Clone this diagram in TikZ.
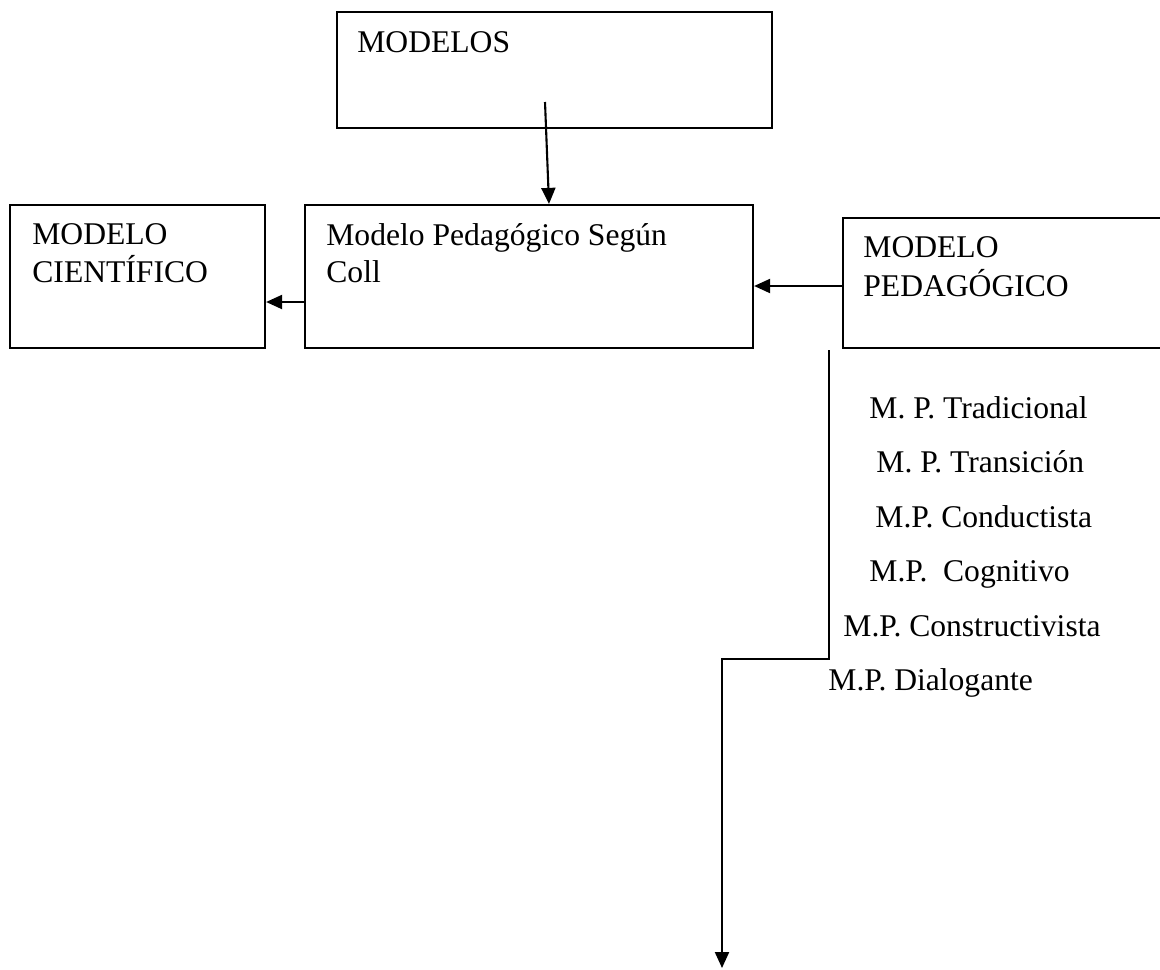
\documentclass[tikz,border=0pt]{standalone}
\usepackage{fontspec}
\setmainfont{Liberation Serif}
\usetikzlibrary{arrows.meta}
\begin{document}
\begin{tikzpicture}[x=0.5pt,y=-0.5pt,
  box/.style={draw=black, line width=1.1pt, rectangle, inner sep=0pt},
  lbl/.style={anchor=base west, inner sep=0pt, font=\fontsize{15.8}{18}\selectfont},
  arr/.style={line width=1.05pt, -{Triangle[length=8pt,width=7pt]}},
  ln/.style={line width=1.05pt}]
\clip (0,0) rectangle (1160,969);
\fill[white] (0,0) rectangle (1160,969);
% boxes
\node[box, minimum width=217.5pt, minimum height=58pt] (modelos) at (554.5,70) {};
\node[box, minimum width=127.5pt, minimum height=71.5pt] (cient) at (137.5,276.5) {};
\node[box, minimum width=224pt, minimum height=71.5pt] (coll) at (529,276.5) {};
\node[box, minimum width=163.5pt, minimum height=65pt] (ped) at (1006.5,283) {};
% box texts
\node[lbl] (tmodelos) at (357,52) {MODELOS};
\node[lbl] (tcient1) at (32,244) {MODELO};
\node[lbl] (tcient2) at (32,282) {CIENTÍFICO};
\node[lbl] (tcoll1) at (326,245) {Modelo Pedagógico Según};
\node[lbl] (tcoll2) at (326,282) {Coll};
\node[lbl] (tped1) at (863,257) {MODELO};
\node[lbl] (tped2) at (863,296) {PEDAGÓGICO};
% list
\node[lbl] (l1) at (869,418) {M. P. Tradicional};
\node[lbl] (l2) at (876,472.5) {M. P. Transición};
\node[lbl] (l3) at (875,527) {M.P. Conductista};
\node[lbl] (l4) at (869,581.5) {M.P.\ \ Cognitivo};
\node[lbl] (l5) at (843,636) {M.P. Constructivista};
\node[lbl] (l6) at (828,690.5) {M.P. Dialogante};
% connectors
\coordinate (a1) at (545,102);
\draw[arr] (a1) -- ([xshift=10pt]coll.north);
\draw[arr] ([yshift=-12.75pt]coll.west) coordinate (c1) -- (c1 -| cient.east);
\draw[arr] ([yshift=-1.5pt]ped.west) coordinate (p1) -- (p1 -| coll.east);
\coordinate (s) at (829,350);
\coordinate (bend) at (829,659);
\coordinate (e) at (722,968);
\draw[arr] (s) -- (bend) -| (e);
\end{tikzpicture}
\end{document}
